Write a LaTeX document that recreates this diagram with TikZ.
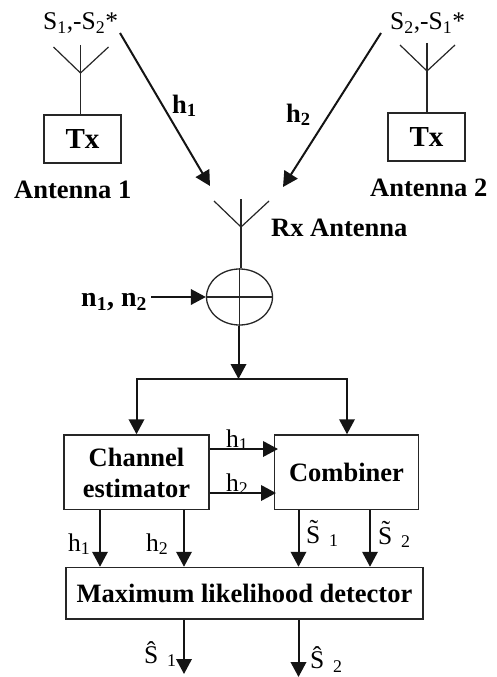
\documentclass[tikz,border=0pt]{standalone}
\usepackage{fontspec}
\setmainfont{Liberation Serif}
\usetikzlibrary{arrows.meta,shapes.geometric}
\tikzset{
  x=1pt,y=-1pt,
  wire/.style={line width=1.2pt,black!85},
  arr/.style={line width=2pt,black!92,-{Triangle[width=15.5pt,length=15pt]}},
  thickwire/.style={line width=1.8pt,black!90},
  block/.style={draw=black!85,line width=1.4pt,inner sep=0pt,text=black,font=\fontsize{26.5}{31}\selectfont\bfseries,align=center},
  txblock/.style={block,font=\fontsize{29}{31}\selectfont\bfseries,minimum width=77pt,minimum height=48pt},
  blabel/.style={inner sep=0pt,font=\fontsize{26.5}{31}\selectfont\bfseries},
  rlabel/.style={inner sep=0pt,font=\fontsize{25.5}{30}\selectfont}
}
\newcommand{\antenna}[3]{%
  \coordinate (#1top) at (#2,#3);
  \coordinate (#1j) at (#2,#3+28);
  \coordinate (#1l) at (#2-27,#3+2);
  \coordinate (#1r) at (#2+28,#3+2);
  \draw[wire] (#1l) -- (#1j) -- (#1r);
}
\newcommand{\sbs}[1]{\textsubscript{#1}}
\begin{document}
\begin{tikzpicture}
\useasboundingbox (0,0) rectangle (496,677);
% boxes
\node[txblock] (tx1) at (82.5,139) {Tx};
\node[txblock] (tx2) at (426.5,137) {Tx};
\node[block,minimum width=145pt,minimum height=74.5pt,text depth=0pt] (ce) at (136.5,472.2) {\raisebox{-2pt}{Channel}\\\raisebox{-2pt}{estimator}};
\node[block,minimum width=144pt,minimum height=74.5pt] (cb) at (346.5,472.2) {Combiner};
\node[block,minimum width=357pt,minimum height=51.5pt] (ml) at (244.5,593.2) {Maximum likelihood detector};
\node[draw=black!85,ellipse,line width=1.3pt,minimum width=66pt,minimum height=56pt,inner sep=0pt] (sum) at (239.5,297) {};
% antennas
\antenna{a}{80.5}{45}
\draw[wire] (atop) -- (atop |- tx1.north);
\antenna{b}{427}{43}
\draw[wire] (btop) -- (btop |- tx2.north);
\antenna{c}{241}{199}
\draw[wire] (ctop) -- (ctop |- sum.north);
% summer cross
\draw[wire] (sum.north) -- (sum.south);
\draw[wire] (sum.west) -- (sum.east);
% labels top
\node[rlabel,anchor=base west] (s1) at (43,30) {S\sbs{1},-S\sbs{2}*};
\node[rlabel,anchor=base west] (s2) at (390,30) {S\sbs{2},-S\sbs{1}*};
\node[blabel,anchor=base west] (h1) at (172,113) {h\sbs{1}};
\node[blabel,anchor=base west] (h2) at (286,122) {h\sbs{2}};
\node[blabel,anchor=base west] (an1) at (14,198) {Antenna 1};
\node[blabel,anchor=base west] (an2) at (370,196) {Antenna 2};
\node[blabel,anchor=base west] (rx) at (271,236) {Rx Antenna};
\node[blabel,anchor=base west,font=\fontsize{28}{31}\selectfont\bfseries] (n) at (81,306) {n\sbs{1}, n\sbs{2}};
% channel arrows
\coordinate (f1) at (120,33); \coordinate (t1) at (210,186);
\coordinate (f2) at (381,33); \coordinate (t2) at (283,187);
\draw[arr] (f1) -- (t1);
\draw[arr] (f2) -- (t2);
\coordinate (nf) at (151,297);
\draw[arr] (nf) -- (sum.west);
% split
\coordinate (sp) at (238.5,379);
\coordinate (spl) at (136.5,379);
\coordinate (spr) at (347,379);
\draw[arr] (sum.south -| sp) -- (sp);
\draw[thickwire,line cap=rect] (spl) -- (spr);
\draw[arr] (spl) -- (spl |- ce.north);
\draw[arr] (spr) -- (spr |- cb.north);
% estimator to combiner
\node[rlabel,anchor=base west] (lh1) at (226,447) {h\sbs{1}};
\node[rlabel,anchor=base west] (lh2) at (226,491) {h\sbs{2}};
\coordinate (e1) at (ce.east |- 0,449);
\coordinate (e2) at (ce.east |- 0,493);
\coordinate (c1) at (278,449);
\coordinate (c2) at (276,493);
\draw[arr] (e1) -- (c1);
\draw[arr] (e2) -- (c2);
% down arrows
\coordinate (d1) at (100,0); \coordinate (d2) at (184,0);
\coordinate (d3) at (298.5,0); \coordinate (d4) at (370,0);
\draw[arr] (d1 |- ce.south) -- (d1 |- ml.north);
\draw[arr] (d2 |- ce.south) -- (d2 |- ml.north);
\draw[arr] (d3 |- cb.south) -- (d3 |- ml.north);
\draw[arr] (d4 |- cb.south) -- (d4 |- ml.north);
\node[rlabel,anchor=base west] (l1) at (68,551) {h\sbs{1}};
\node[rlabel,anchor=base west] (l2) at (146,551) {h\sbs{2}};
\node[rlabel,anchor=base west] (l3) at (306,543) {\~{S}\,\sbs{ 1}};
\node[rlabel,anchor=base west] (l4) at (378,544) {\~{S}\,\sbs{ 2}};
% outputs
\coordinate (o1) at (184,674);
\coordinate (o2) at (298.5,677);
\draw[arr] (o1 |- ml.south) -- (o1);
\draw[arr] (o2 |- ml.south) -- (o2);
\node[rlabel,anchor=base west] (l5) at (144,663) {\^{S}\,\sbs{ 1}};
\node[rlabel,anchor=base west] (l6) at (310,668.5) {\^{S}\,\sbs{ 2}};
\end{tikzpicture}
\end{document}
